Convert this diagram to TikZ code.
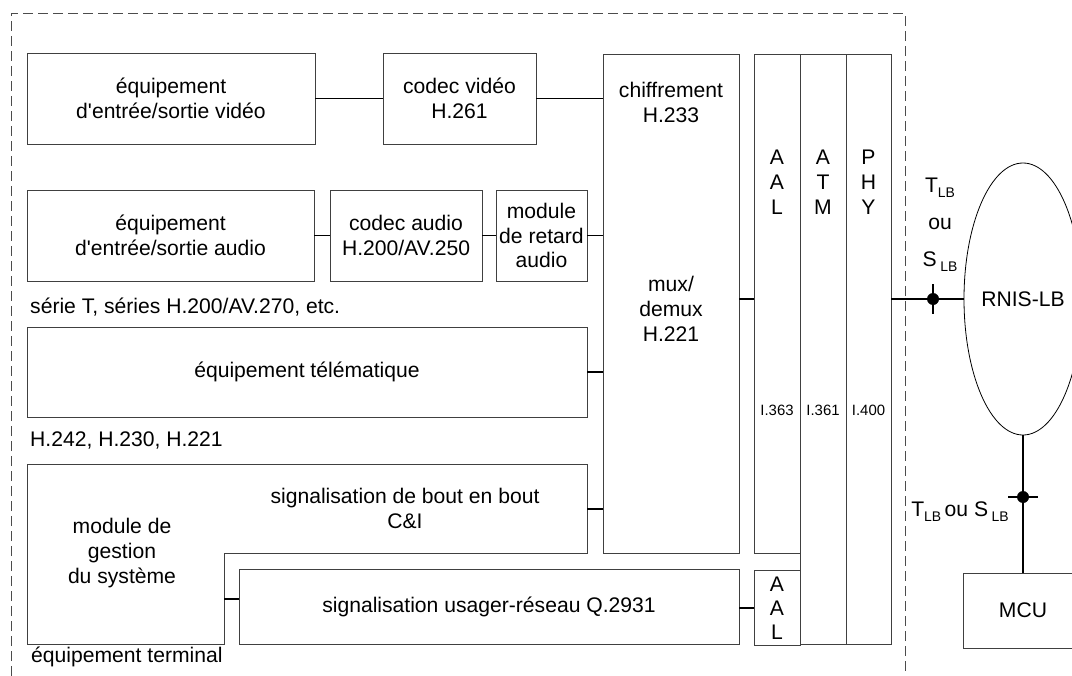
\documentclass[tikz,border=0pt]{standalone}
\usepackage{fontspec}
\setmainfont{Liberation Sans}
\usetikzlibrary{shapes.geometric,calc}
\begin{document}
\begin{tikzpicture}[x=1bp,y=-1bp,
  box/.style={draw=black!75,line width=0.9bp,inner sep=0pt,align=center,font=\mainfnt},
  conn/.style={line width=1.6bp,black},
  lbl/.style={inner sep=0pt,align=center,font=\mainfnt},
  small/.style={inner sep=0pt,align=center,font=\fontsize{15}{16}\selectfont},
  frame/.style={line width=0.8bp,black!70,dash pattern=on 10bp off 5bp},
  blob/.style={circle,fill=black,inner sep=0pt,minimum size=12bp}
]
\newcommand{\mainfnt}{\fontsize{21.2}{25}\selectfont}
\newcommand{\sub}[1]{\raisebox{-0.45ex}{\fontsize{14}{14}\selectfont #1}}
\useasboundingbox (0,0) rectangle (1072,676);
% dashed frame
\draw[frame] (11,676) -- (11,13) -- (905,13) -- (905,676);

% boxes
\node[box,minimum width=288bp,minimum height=91bp] (vid) at (171,98.5) {équipement\\d\textquotesingle entrée/sortie vidéo};
\node[box,minimum width=153bp,minimum height=91bp] (cvid) at (459.5,98.5) {codec vidéo\\H.261};
\node[box,minimum width=136bp,minimum height=499bp] (mux) at (671,303.5) {};
\node[lbl] (chif) at (671,102) {chiffrement\\H.233};
\node[lbl] (muxt) at (671,309) {mux/\\demux\\H.221};
\node[box,minimum width=287bp,minimum height=91bp] (aud) at (170.5,235.5) {équipement\\d\textquotesingle entrée/sortie audio};
\node[box,minimum width=152bp,minimum height=91bp] (caud) at (406,235.5) {codec audio\\H.200/AV.250};
\node[box,minimum width=91bp,minimum height=91bp] (ret) at (541.5,235.5) {module\\de retard\\audio};
\node[lbl,anchor=west] (serT) at (30,307) {série T, séries H.200/AV.270, etc.};
\node[box,minimum width=560bp,minimum height=90bp] (tele) at (307,372) {équipement télématique};
\node[lbl,anchor=west] (hser) at (30,440) {H.242, H.230, H.221};

% system management / end-to-end signalling outline
\draw[draw=black!75,line width=0.9bp] (27,464) -- (587,464) -- (587,553) -- (224,553) -- (224,644) -- (27,644) -- cycle;
\coordinate (sigE) at (587,509);
\coordinate (modE) at (224,599);
\node[lbl] (sigt) at (405,508) {signalisation de bout en bout\\C\&I};
\node[lbl] (modt) at (122,553) {module de\\gestion\\du système};
\node[lbl,anchor=west] (term) at (31,657) {équipement terminal};

\node[box,minimum width=500bp,minimum height=75bp] (q) at (489,606.5) {signalisation usager-réseau Q.2931};

% protocol columns
\node[box,minimum width=46bp,minimum height=499bp] (aal) at (777,303.5) {};
\node[box,minimum width=46bp,minimum height=590bp] (atm) at (823,349) {};
\node[box,minimum width=45bp,minimum height=590bp] (phy) at (868.5,349) {};
\node[box,minimum width=46bp,minimum height=75bp,font=\fontsize{21.2}{24}\selectfont] (aal2) at (777,608) {A\\A\\L};
\node[lbl] (aalt) at (777,182) {A\\A\\L};
\node[lbl] (atmt) at (823,182) {A\\T\\M};
\node[lbl] (phyt) at (868.5,182) {P\\H\\Y};
\node[small] (i363) at (777,410) {I.363};
\node[small] (i361) at (823,410) {I.361};
\node[small] (i400) at (868.5,410) {I.400};

% network side
\node[draw,line width=0.8bp,ellipse,inner sep=0pt,minimum width=118bp,minimum height=272bp,font=\mainfnt] (rnis) at (1023,299) {RNIS-LB};
\node[box,minimum width=120bp,minimum height=75bp] (mcu) at (1023,610.5) {MCU};
\coordinate (dot1) at (933,299);
\coordinate (dot2) at (1023,497);
\node[lbl] (t1) at (940,188) {T\sub{LB}};
\node[lbl] (ou1) at (940,224) {ou};
\node[lbl] (s1) at (940,262) {S\,\sub{LB}};
\node[lbl] (t2) at (960,512) {T\sub{LB}\,ou S\,\sub{LB}};

% connectors
\draw[conn] (vid.east) -- (cvid.west);
\draw[conn] (cvid.east) -- (mux.west |- cvid.east);
\draw[conn] (aud.east) -- (caud.west);
\draw[conn] (caud.east) -- (ret.west);
\draw[conn] (ret.east) -- (mux.west |- ret.east);
\draw[conn] (tele.east) -- (mux.west |- tele.east);
\draw[conn] (sigE) -- (mux.west |- sigE);
\draw[conn] (mux.east |- rnis.west) -- (aal.west |- rnis.west);
\draw[conn] (modE) -- (q.west |- modE);
\draw[conn] (q.east |- aal2.west) -- (aal2.west);
\draw[conn] (phy.east |- rnis.west) -- (rnis.west);
\draw[conn] (rnis.south) -- (mcu.north);
\node[blob] (b1) at (dot1) {};
\node[blob] (b2) at (dot2) {};
\draw[conn] ($(dot1)+(0,-15)$) -- ($(dot1)+(0,15)$);
\draw[conn] ($(dot2)+(-15,0)$) -- ($(dot2)+(15,0)$);
\end{tikzpicture}
\end{document}
